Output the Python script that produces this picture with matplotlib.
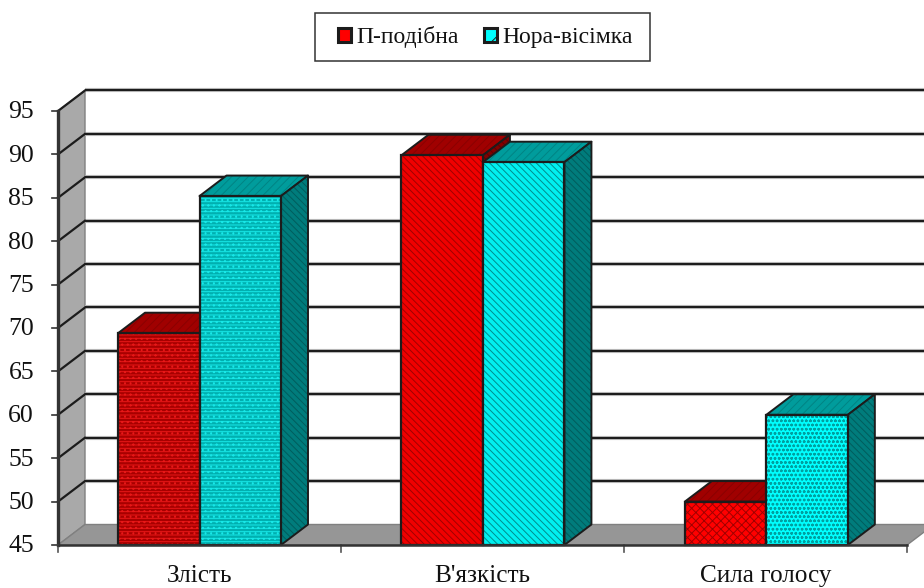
import matplotlib
matplotlib.use("Agg")
import matplotlib.pyplot as plt
from matplotlib.patches import Polygon, Patch, Rectangle

categories = ["Злість", "В'язкість", "Сила голосу"]
series_names = ["П-подібна", "Нора-вісімка"]
p_values = [69.4, 89.9, 50.0]
h_values = [85.2, 89.1, 60.0]
y_ticks = [45, 50, 55, 60, 65, 70, 75, 80, 85, 90, 95]

W, H = 924, 588
PX_X = 283.0    # pixels per category
PX_Y = 8.68     # pixels per value unit
X0, Y0 = 58, 545  # pixel of the axes origin
DX = 27 / PX_X   # 3d depth, data units
DY = 20.5 / PX_Y
BAR_W = 81.5 / PX_X
Y_MIN, Y_MAX = y_ticks[0], y_ticks[-1]
INK = "#1c1c1c"

# per-group fill styles: (front face, hatch colour, hatch)
P_STYLE = [("#a80000", "#e81818", "-----..."), ("#f00000", "#a00000", "\\\\\\\\\\"), ("#ff0000", "#a00000", "xxxx")]
H_STYLE = [("#00b0b0", "#18e8e8", "-----..."), ("#00f0f0", "#008c8c", "\\\\\\\\\\"), ("#00ffff", "#00a0a0", "oooo")]
P_TOP, P_SIDE = "#a00000", "#800000"
H_TOP, H_SIDE = "#009c9c", "#007c7c"
P_TOP_HATCH, P_SIDE_HATCH = "#8a0000", "#600000"
H_TOP_HATCH, H_SIDE_HATCH = "#008484", "#005c5c"

plt.rcParams["font.family"] = ["Liberation Serif", "DejaVu Serif"]
plt.rcParams["hatch.linewidth"] = 0.7

fig = plt.figure(figsize=(W / 100, H / 100), dpi=100)
ax = fig.add_axes([0, 0, 1, 1])
ax.set_xlim(-X0 / PX_X, (W - X0) / PX_X)
ax.set_ylim(Y_MIN - (H - Y0) / PX_Y, Y_MIN + Y0 / PX_Y)
ax.axis("off")

n = len(categories)

# walls
ax.add_patch(Polygon([(0, Y_MIN), (DX, Y_MIN + DY), (DX, Y_MAX + DY), (0, Y_MAX)],
                     fc="#a9a9a9", ec="#808080", lw=1, zorder=1))
ax.add_patch(Polygon([(0, Y_MIN), (DX, Y_MIN + DY), (n + DX, Y_MIN + DY), (n, Y_MIN)],
                     fc="#969696", ec="#808080", lw=1, zorder=1))

# gridlines run across the back wall and down the side wall
for v in y_ticks:
    if v == Y_MIN:
        continue
    ax.plot([DX, n + DX], [v + DY, v + DY], color="#c8c8c8", lw=3, zorder=2, solid_capstyle="butt")
    ax.plot([DX, n + DX], [v + DY, v + DY], color=INK, lw=1.6, zorder=2, solid_capstyle="butt")
    ax.plot([0, DX], [v, v + DY], color=INK, lw=1.6, zorder=2)

# front axis lines and ticks
ax.plot([0, 0], [Y_MIN, Y_MAX], color="#333333", lw=2.4, zorder=3)
ax.plot([0, n], [Y_MIN, Y_MIN], color="#333333", lw=1.8, zorder=6)
for v in y_ticks:
    ax.plot([-6.5 / PX_X, 0], [v, v], color="#333333", lw=1.2, zorder=3)
    ax.text(-24 / PX_X, v - 1.5 / PX_Y, str(v), ha="right", va="center", fontsize=18.5, color="#111111")
for i in range(n + 1):
    ax.plot([i, i], [Y_MIN, Y_MIN - 6.5 / PX_Y], color="#555555", lw=1.2, zorder=3)
for i, name in enumerate(categories):
    ax.text(i + 0.5, Y_MIN - 31 / PX_Y, name, ha="center", va="center", fontsize=18.2, color="#111111")


def draw_bar(left, value, style, top_col, side_col, top_hatch, side_hatch, z):
    right = left + BAR_W
    face, hatch_col, hatch = style
    top = [(left, value), (left + DX, value + DY), (right + DX, value + DY), (right, value)]
    side = [(right, Y_MIN), (right + DX, Y_MIN + DY), (right + DX, value + DY), (right, value)]
    ax.add_patch(Polygon(top, fc=top_col, ec=top_hatch, hatch="////", lw=0, zorder=z))
    ax.add_patch(Polygon(top, fill=False, ec=INK, lw=1.4, joinstyle="round", zorder=z))
    ax.add_patch(Polygon(side, fc=side_col, ec=side_hatch, hatch="\\\\\\\\\\", lw=0, zorder=z))
    ax.add_patch(Polygon(side, fill=False, ec=INK, lw=1.4, joinstyle="round", zorder=z))
    ax.bar(left, value - Y_MIN, BAR_W, bottom=Y_MIN, align="edge", color=face, edgecolor=hatch_col,
           hatch=hatch, lw=0, zorder=z + 0.1)
    ax.bar(left, value - Y_MIN, BAR_W, bottom=Y_MIN, align="edge", fill=False, edgecolor=INK,
           lw=1.6, zorder=z + 0.2)


for i in range(n):
    left = i + (118 - X0) / PX_X + 0.0015 * i
    draw_bar(left, p_values[i], P_STYLE[i], P_TOP, P_SIDE, P_TOP_HATCH, P_SIDE_HATCH, 4)
    draw_bar(left + BAR_W, h_values[i], H_STYLE[i], H_TOP, H_SIDE, H_TOP_HATCH, H_SIDE_HATCH, 5)

# legend box is fixed in figure space, entries sit inside it
fig.add_artist(Rectangle((314.5 / W, 1 - 60.5 / H), 335 / W, 48 / H, transform=fig.transFigure,
                         fc="white", ec="#333333", lw=1.1))
handles = [Patch(fc="#ff0000", ec=INK, lw=2.2),
           Patch(fc="#00ffff", ec=INK, lw=2.2, hatch="x")]
leg = fig.legend(handles, series_names, loc="center", bbox_to_anchor=(485.5 / W, 1 - 37 / H),
                 ncol=2, fontsize=17, frameon=False,
                 handlelength=0.55, handleheight=0.55, handletextpad=0.25, columnspacing=1.05,
                 borderpad=0, borderaxespad=0, labelcolor="#111111")

fig.savefig("out.png", dpi=100)
